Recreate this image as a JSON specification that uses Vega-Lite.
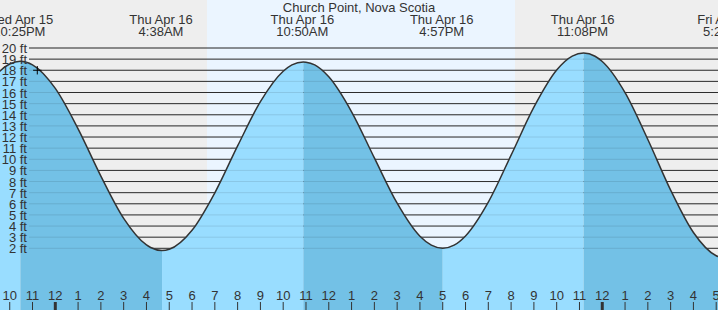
{
  "$schema": "https://vega.github.io/schema/vega-lite/v6.json",
  "width": 718,
  "height": 310,
  "autosize": "none",
  "padding": 0,
  "background": "#eeeeee",
  "config": {"view": {"stroke": null}, "text": {"font": "Liberation Sans", "fontSize": 13, "color": "#333333"}},
  "datasets": {
    "daylight": [{"sunrise": 6.656, "sunset": 20.171}],
    "levels": [
      {"ft": 2, "label": "2 ft"}, {"ft": 3, "label": "3 ft"}, {"ft": 4, "label": "4 ft"}, {"ft": 5, "label": "5 ft"},
      {"ft": 6, "label": "6 ft"}, {"ft": 7, "label": "7 ft"}, {"ft": 8, "label": "8 ft"}, {"ft": 9, "label": "9 ft"},
      {"ft": 10, "label": "10 ft"}, {"ft": 11, "label": "11 ft"}, {"ft": 12, "label": "12 ft"}, {"ft": 13, "label": "13 ft"},
      {"ft": 14, "label": "14 ft"}, {"ft": 15, "label": "15 ft"}, {"ft": 16, "label": "16 ft"}, {"ft": 17, "label": "17 ft"},
      {"ft": 18, "label": "18 ft"}, {"ft": 19, "label": "19 ft"}, {"ft": 20, "label": "20 ft"}
    ],
    "curve": [
      {"hour": -3, "ft": 16.56, "seg": 0, "phase": "flood"},
      {"hour": -2.5, "ft": 17.8, "seg": 0, "phase": "flood"},
      {"hour": -2, "ft": 18.56, "seg": 0, "phase": "flood"},
      {"hour": -1.533, "ft": 18.8, "seg": 0, "phase": "flood"},
      {"hour": -1.533, "ft": 18.8, "seg": 1, "phase": "ebb"},
      {"hour": -1, "ft": 18.49, "seg": 1, "phase": "ebb"},
      {"hour": 0, "ft": 16.37, "seg": 1, "phase": "ebb"},
      {"hour": 1, "ft": 12.74, "seg": 1, "phase": "ebb"},
      {"hour": 2, "ft": 8.49, "seg": 1, "phase": "ebb"},
      {"hour": 3, "ft": 4.69, "seg": 1, "phase": "ebb"},
      {"hour": 4, "ft": 2.3, "seg": 1, "phase": "ebb"},
      {"hour": 4.183, "ft": 2.07, "seg": 1, "phase": "ebb"},
      {"hour": 4.683, "ft": 1.8, "seg": 1, "phase": "ebb"},
      {"hour": 4.683, "ft": 1.8, "seg": 2, "phase": "flood"},
      {"hour": 5, "ft": 1.91, "seg": 2, "phase": "flood"},
      {"hour": 6, "ft": 3.62, "seg": 2, "phase": "flood"},
      {"hour": 7, "ft": 6.99, "seg": 2, "phase": "flood"},
      {"hour": 8, "ft": 11.2, "seg": 2, "phase": "flood"},
      {"hour": 9, "ft": 15.18, "seg": 2, "phase": "flood"},
      {"hour": 10, "ft": 17.91, "seg": 2, "phase": "flood"},
      {"hour": 10.383, "ft": 18.48, "seg": 2, "phase": "flood"},
      {"hour": 10.883, "ft": 18.75, "seg": 2, "phase": "flood"},
      {"hour": 10.883, "ft": 18.75, "seg": 3, "phase": "ebb"},
      {"hour": 11, "ft": 18.73, "seg": 3, "phase": "ebb"},
      {"hour": 11.383, "ft": 18.48, "seg": 3, "phase": "ebb"},
      {"hour": 12, "ft": 17.41, "seg": 3, "phase": "ebb"},
      {"hour": 13, "ft": 14.27, "seg": 3, "phase": "ebb"},
      {"hour": 14, "ft": 10.12, "seg": 3, "phase": "ebb"},
      {"hour": 15, "ft": 6.05, "seg": 3, "phase": "ebb"},
      {"hour": 16, "ft": 3.08, "seg": 3, "phase": "ebb"},
      {"hour": 16.5, "ft": 2.28, "seg": 3, "phase": "ebb"},
      {"hour": 17, "ft": 2.0, "seg": 3, "phase": "ebb"},
      {"hour": 17, "ft": 2.0, "seg": 4, "phase": "flood"},
      {"hour": 17.5, "ft": 2.28, "seg": 4, "phase": "flood"},
      {"hour": 18, "ft": 3.11, "seg": 4, "phase": "flood"},
      {"hour": 19, "ft": 6.15, "seg": 4, "phase": "flood"},
      {"hour": 20, "ft": 10.37, "seg": 4, "phase": "flood"},
      {"hour": 21, "ft": 14.68, "seg": 4, "phase": "flood"},
      {"hour": 22, "ft": 18.02, "seg": 4, "phase": "flood"},
      {"hour": 22.683, "ft": 19.27, "seg": 4, "phase": "flood"},
      {"hour": 23.183, "ft": 19.55, "seg": 4, "phase": "flood"},
      {"hour": 23.183, "ft": 19.55, "seg": 5, "phase": "ebb"},
      {"hour": 23.683, "ft": 19.26, "seg": 5, "phase": "ebb"},
      {"hour": 24, "ft": 18.79, "seg": 5, "phase": "ebb"},
      {"hour": 25, "ft": 15.99, "seg": 5, "phase": "ebb"},
      {"hour": 26, "ft": 11.78, "seg": 5, "phase": "ebb"},
      {"hour": 27, "ft": 7.23, "seg": 5, "phase": "ebb"},
      {"hour": 28, "ft": 3.42, "seg": 5, "phase": "ebb"},
      {"hour": 29, "ft": 1.33, "seg": 5, "phase": "ebb"},
      {"hour": 29.45, "ft": 1.1, "seg": 5, "phase": "ebb"}
    ],
    "extremes": [
      {"hour": -1.533, "ft": 18.8, "day": "Wed Apr 15", "time": "10:25PM"},
      {"hour": 4.683, "ft": 1.8, "day": "Thu Apr 16", "time": "4:38AM"},
      {"hour": 10.883, "ft": 18.75, "day": "Thu Apr 16", "time": "10:50AM"},
      {"hour": 17.0, "ft": 2.0, "day": "Thu Apr 16", "time": "4:57PM"},
      {"hour": 23.183, "ft": 19.55, "day": "Thu Apr 16", "time": "11:08PM"},
      {"hour": 29.45, "ft": 1.1, "day": "Fri Apr 17", "time": "5:24AM"}
    ],
    "hours": [
      {"hour": -2, "label": "10"}, {"hour": -1, "label": "11"}, {"hour": 0, "label": "12"}, {"hour": 1, "label": "1"},
      {"hour": 2, "label": "2"}, {"hour": 3, "label": "3"}, {"hour": 4, "label": "4"}, {"hour": 5, "label": "5"},
      {"hour": 6, "label": "6"}, {"hour": 7, "label": "7"}, {"hour": 8, "label": "8"}, {"hour": 9, "label": "9"},
      {"hour": 10, "label": "10"}, {"hour": 11, "label": "11"}, {"hour": 12, "label": "12"}, {"hour": 13, "label": "1"},
      {"hour": 14, "label": "2"}, {"hour": 15, "label": "3"}, {"hour": 16, "label": "4"}, {"hour": 17, "label": "5"},
      {"hour": 18, "label": "6"}, {"hour": 19, "label": "7"}, {"hour": 20, "label": "8"}, {"hour": 21, "label": "9"},
      {"hour": 22, "label": "10"}, {"hour": 23, "label": "11"}, {"hour": 24, "label": "12"}, {"hour": 25, "label": "1"},
      {"hour": 26, "label": "2"}, {"hour": 27, "label": "3"}, {"hour": 28, "label": "4"}, {"hour": 29, "label": "5"}
    ],
    "now": [{"hour": -0.79, "ft": 18.0}],
    "title": [{"label": "Church Point, Nova Scotia"}]
  },
  "layer": [
    {
      "data": {"name": "daylight"},
      "mark": {"type": "rect", "color": "#ebf5ff"},
      "encoding": {
        "x": {"field": "sunrise", "type": "quantitative", "scale": {"domain": [-2.4265, 29.0785], "nice": false, "zero": false}, "axis": null},
        "x2": {"field": "sunset"}
      }
    },
    {
      "data": {"name": "levels"},
      "mark": {"type": "rule", "color": "#333333", "strokeWidth": 1},
      "encoding": {
        "x": {"datum": -1.154, "type": "quantitative", "scale": {"domain": [-2.4265, 29.0785], "nice": false, "zero": false}, "axis": null},
        "x2": {"datum": 29.0785},
        "y": {"field": "ft", "type": "quantitative", "scale": {"domain": [-3.544, 24.3135], "nice": false, "zero": false}, "axis": null}
      }
    },
    {
      "data": {"name": "curve"},
      "mark": {"type": "area", "interpolate": "monotone", "clip": true},
      "encoding": {
        "x": {"field": "hour", "type": "quantitative", "scale": {"domain": [-2.4265, 29.0785], "nice": false, "zero": false}, "axis": null},
        "y": {"field": "ft", "type": "quantitative", "stack": null, "scale": {"domain": [-3.544, 24.3135], "nice": false, "zero": false}, "axis": null},
        "y2": {"datum": -3.544},
        "color": {"field": "phase", "type": "nominal", "scale": {"domain": ["ebb", "flood"], "range": ["#73c1e6", "#99ddff"]}, "legend": null},
        "detail": {"field": "seg", "type": "nominal"}
      }
    },
    {
      "data": {"name": "levels"},
      "mark": {"type": "rule", "color": "#000000", "opacity": 0.1, "strokeWidth": 1},
      "encoding": {
        "x": {"datum": -1.154, "type": "quantitative", "scale": {"domain": [-2.4265, 29.0785], "nice": false, "zero": false}, "axis": null},
        "x2": {"datum": 29.0785},
        "y": {"field": "ft", "type": "quantitative", "scale": {"domain": [-3.544, 24.3135], "nice": false, "zero": false}, "axis": null}
      }
    },
    {
      "data": {"name": "curve"},
      "mark": {"type": "line", "interpolate": "monotone", "clip": true, "color": "#333333", "strokeWidth": 1.5},
      "encoding": {
        "x": {"field": "hour", "type": "quantitative", "scale": {"domain": [-2.4265, 29.0785], "nice": false, "zero": false}, "axis": null},
        "y": {"field": "ft", "type": "quantitative", "scale": {"domain": [-3.544, 24.3135], "nice": false, "zero": false}, "axis": null}
      }
    },
    {
      "data": {"name": "levels"},
      "mark": {"type": "text", "align": "right", "baseline": "middle", "dy": 1},
      "encoding": {
        "x": {"datum": -1.2418, "type": "quantitative", "scale": {"domain": [-2.4265, 29.0785], "nice": false, "zero": false}, "axis": null},
        "y": {"field": "ft", "type": "quantitative", "scale": {"domain": [-3.544, 24.3135], "nice": false, "zero": false}, "axis": null},
        "text": {"field": "label"}
      }
    },
    {
      "data": {"name": "hours"},
      "mark": {"type": "rule", "color": "#333333"},
      "encoding": {
        "x": {"field": "hour", "type": "quantitative", "scale": {"domain": [-2.4265, 29.0785], "nice": false, "zero": false}, "axis": null},
        "y": {"datum": -2.825, "type": "quantitative", "scale": {"domain": [-3.544, 24.3135], "nice": false, "zero": false}, "axis": null},
        "y2": {"datum": -3.544},
        "strokeWidth": {"condition": {"test": "datum.hour % 24 === 0", "value": 3}, "value": 1}
      }
    },
    {
      "data": {"name": "hours"},
      "mark": {"type": "text", "align": "center", "baseline": "alphabetic"},
      "encoding": {
        "x": {"field": "hour", "type": "quantitative", "scale": {"domain": [-2.4265, 29.0785], "nice": false, "zero": false}, "axis": null},
        "y": {"datum": -2.646, "type": "quantitative", "scale": {"domain": [-3.544, 24.3135], "nice": false, "zero": false}, "axis": null},
        "text": {"field": "label"}
      }
    },
    {
      "data": {"name": "extremes"},
      "mark": {"type": "text", "align": "center", "baseline": "alphabetic", "dx": -1},
      "encoding": {
        "x": {"field": "hour", "type": "quantitative", "scale": {"domain": [-2.4265, 29.0785], "nice": false, "zero": false}, "axis": null},
        "y": {"datum": 22.157, "type": "quantitative", "scale": {"domain": [-3.544, 24.3135], "nice": false, "zero": false}, "axis": null},
        "text": {"field": "day"}
      }
    },
    {
      "data": {"name": "extremes"},
      "mark": {"type": "text", "align": "center", "baseline": "alphabetic", "dx": -1},
      "encoding": {
        "x": {"field": "hour", "type": "quantitative", "scale": {"domain": [-2.4265, 29.0785], "nice": false, "zero": false}, "axis": null},
        "y": {"datum": 21.078, "type": "quantitative", "scale": {"domain": [-3.544, 24.3135], "nice": false, "zero": false}, "axis": null},
        "text": {"field": "time"}
      }
    },
    {
      "data": {"name": "title"},
      "mark": {"type": "text", "align": "center", "baseline": "alphabetic"},
      "encoding": {
        "x": {"datum": 13.326, "type": "quantitative", "scale": {"domain": [-2.4265, 29.0785], "nice": false, "zero": false}, "axis": null},
        "y": {"datum": 23.28, "type": "quantitative", "scale": {"domain": [-3.544, 24.3135], "nice": false, "zero": false}, "axis": null},
        "text": {"field": "label"}
      }
    },
    {
      "data": {"name": "now"},
      "mark": {"type": "point", "shape": "M-1,0H1M0,-1V1", "size": 70, "filled": false, "color": "#000000", "strokeWidth": 1, "opacity": 1},
      "encoding": {
        "x": {"field": "hour", "type": "quantitative", "scale": {"domain": [-2.4265, 29.0785], "nice": false, "zero": false}, "axis": null},
        "y": {"field": "ft", "type": "quantitative", "scale": {"domain": [-3.544, 24.3135], "nice": false, "zero": false}, "axis": null}
      }
    }
  ]
}
